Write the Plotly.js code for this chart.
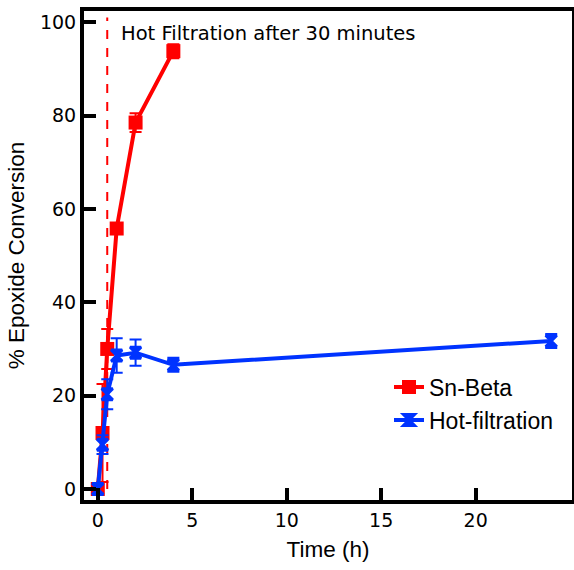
<!DOCTYPE html>
<html>
<head>
<meta charset="utf-8">
<script src="https://cdn.plot.ly/plotly-3.0.1.min.js"></script>
<style>html,body{margin:0;padding:0;background:#fff;}#chart{width:574px;height:570px;}</style>
</head>
<body>
<div id="chart"></div>
<script>
const timeSn = [0, 0.25, 0.5, 1, 2, 4];
const convSn = [0, 12, 30, 55.8, 78.5, 93.8];
const errSn = [1, 10.5, 4.3, 1.2, 2, 1.5];

const timeHF = [0, 0.25, 0.5, 1, 2, 4, 24];
const convHF = [0, 9.5, 20.3, 28.6, 29.2, 26.6, 31.7];
const errHF = [1, 2, 3.2, 3.7, 2.8, 1.5, 1.5];

const filtrationTime = 0.5;
const annotationText = "Hot Filtration after 30 minutes";
const xTicks = [0, 5, 10, 15, 20];
const yTicks = [0, 20, 40, 60, 80, 100];

const traces = [
  {
    x: timeSn, y: convSn, name: "Sn-Beta", type: "scatter", mode: "lines+markers",
    line: {color: "#ff0000", width: 4},
    marker: {symbol: "square", size: 14, color: "#ff0000"},
    error_y: {type: "data", array: errSn, visible: true, color: "#ff0000", thickness: 2, width: 6}
  },
  {
    x: timeHF, y: convHF, name: "Hot-filtration", type: "scatter", mode: "lines+markers",
    line: {color: "#0033ff", width: 4},
    marker: {symbol: "hourglass", size: 11, color: "#0033ff", line: {color: "#0033ff", width: 3}},
    error_y: {type: "data", array: errHF, visible: true, color: "#0033ff", thickness: 2, width: 6}
  }
];

const layout = {
  width: 574, height: 570,
  margin: {l: 84, r: 2, t: 11, b: 70},
  paper_bgcolor: "#fff", plot_bgcolor: "#fff",
  showlegend: true,
  legend: {x: 0.625, y: 0.275, xanchor: "left", yanchor: "top", bgcolor: "rgba(0,0,0,0)",
           font: {family: "Liberation Sans, Arial, sans-serif", size: 23, color: "#000"}, tracegroupgap: 0},
  xaxis: {
    range: [-0.73, 25.1], tickvals: xTicks, ticks: "inside", ticklen: 12, tickwidth: 4, tickcolor: "#000",
    showline: true, linewidth: 4, linecolor: "#000", mirror: true, showgrid: false, zeroline: false,
    tickfont: {family: "DejaVu Sans, sans-serif", size: 19, color: "#000"},
    title: {text: "Time (h)", font: {family: "Liberation Sans, Arial, sans-serif", size: 22.5, color: "#000"}, standoff: 12}
  },
  yaxis: {
    range: [-2.36, 102.4], tickvals: yTicks, ticks: "inside", ticklen: 12, tickwidth: 4, tickcolor: "#000",
    showline: true, linewidth: 4, linecolor: "#000", mirror: true, showgrid: false, zeroline: false,
    tickfont: {family: "DejaVu Sans, sans-serif", size: 19, color: "#000"},
    title: {text: "% Epoxide Conversion", font: {family: "Liberation Sans, Arial, sans-serif", size: 22.5, color: "#000"}, standoff: 10}
  },
  shapes: [
    {type: "line", xref: "x", yref: "y", x0: filtrationTime, x1: filtrationTime, y0: 0, y1: 101,
     line: {color: "#ff0000", width: 2, dash: "dash"}, layer: "below"}
  ],
  annotations: [
    {x: 1.1, y: 97.5, xref: "x", yref: "y", xanchor: "left", yanchor: "middle", showarrow: false,
     text: annotationText, font: {family: "DejaVu Sans, sans-serif", size: 19.5, color: "#000"}}
  ]
};

Plotly.newPlot("chart", traces, layout, {displayModeBar: false, staticPlot: true});
</script>
</body>
</html>
